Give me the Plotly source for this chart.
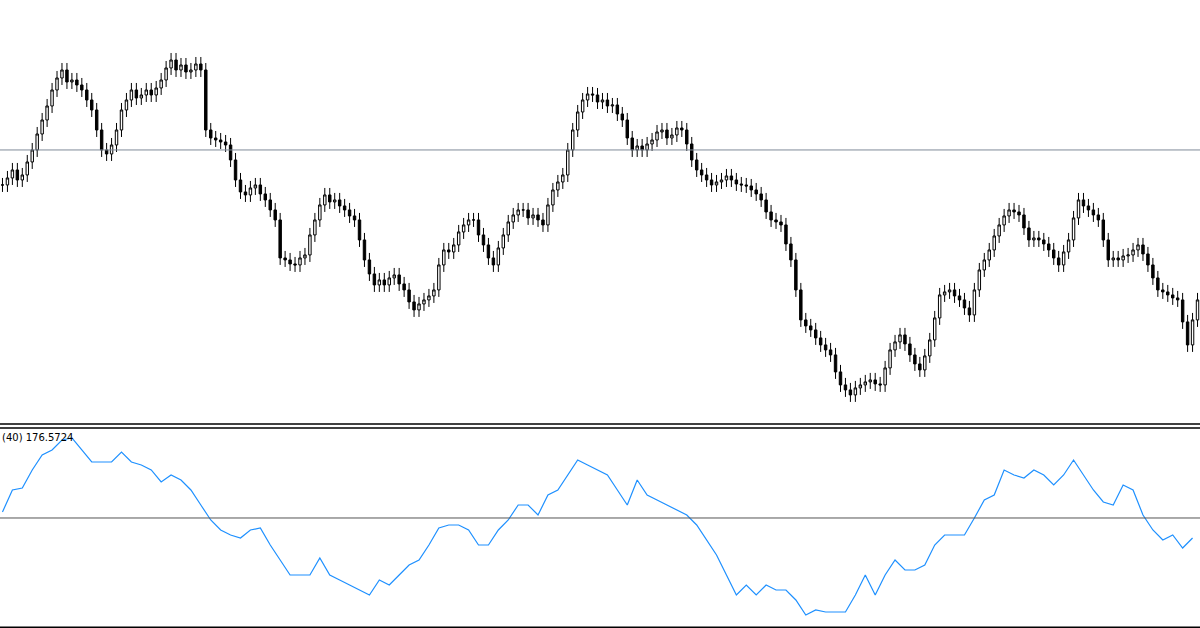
import plotly.graph_objects as go

# closing prices, one per candle (arbitrary price units)
closes = [245, 252, 260, 250, 255, 268, 280, 296, 310, 324, 340, 352, 360, 348, 350, 345, 340, 330, 320, 300,
          280, 276, 285, 300, 320, 330, 340, 332, 335, 340, 335, 342, 350, 362, 370, 360, 365, 358, 360, 366,
          360, 300, 292, 290, 288, 285, 270, 250, 238, 235, 242, 245, 236, 230, 220, 210, 172, 170, 166, 165,
          172, 175, 195, 210, 225, 235, 228, 230, 224, 220, 214, 210, 190, 170, 156, 145, 150, 145, 152, 155,
          146, 140, 128, 120, 126, 130, 134, 140, 165, 180, 178, 185, 198, 205, 210, 210, 195, 185, 172, 165,
          182, 195, 208, 215, 220, 220, 212, 215, 210, 205, 225, 240, 248, 255, 280, 300, 318, 330, 336, 335,
          328, 330, 324, 325, 316, 310, 292, 280, 284, 280, 286, 290, 298, 300, 292, 295, 302, 300, 286, 270,
          260, 255, 250, 245, 248, 250, 254, 250, 246, 245, 244, 240, 236, 230, 218, 210, 208, 205, 186, 170,
          140, 110, 104, 100, 92, 85, 80, 75, 58, 45, 40, 35, 42, 45, 48, 50, 46, 45, 62, 80,
          88, 95, 86, 75, 66, 60, 74, 90, 112, 135, 138, 140, 134, 130, 122, 115, 140, 160, 170, 180,
          194, 205, 214, 220, 218, 215, 202, 190, 192, 190, 186, 180, 172, 165, 178, 190, 212, 230, 224, 220,
          215, 210, 190, 170, 172, 170, 174, 175, 180, 185, 176, 165, 152, 140, 138, 135, 132, 130, 108, 85,
          110, 130]

# oscillator values, one per two candles
osc = [6, 28, 30, 48, 63, 68, 78, 80, 68, 56, 56, 56, 66, 56, 53, 48, 36, 43, 38, 28,
       13, -2, -12, -17, -20, -12, -10, -27, -42, -57, -57, -57, -40, -57, -62, -67, -72, -77, -62, -67,
       -57, -47, -42, -27, -10, -7, -7, -12, -27, -27, -12, -2, 13, 13, 3, 23, 28, 43, 58, 53,
       48, 43, 28, 13, 38, 23, 18, 13, 8, 3, -7, -22, -37, -57, -77, -67, -77, -67, -72, -72,
       -82, -97, -92, -94, -94, -94, -77, -57, -77, -57, -42, -52, -52, -47, -27, -17, -17, -17, 0, 18,
       23, 48, 43, 40, 48, 43, 33, 43, 58, 43, 28, 16, 13, 33, 28, 3, -12, -22, -17, -30, -20]

opens = [closes[0]] + closes[:-1]
highs = [max(o, c) + 7 for o, c in zip(opens, closes)]
lows = [min(o, c) - 7 for o, c in zip(opens, closes)]
idx = list(range(len(closes)))
osc_x = [2 * i for i in range(len(osc))]

fig = go.Figure()
fig.add_trace(go.Candlestick(
    x=idx, open=opens, high=highs, low=lows, close=closes,
    increasing=dict(line=dict(color="black", width=1), fillcolor="white"),
    decreasing=dict(line=dict(color="black", width=1), fillcolor="black"),
    whiskerwidth=0, showlegend=False, xaxis="x", yaxis="y"))
fig.add_trace(go.Scatter(
    x=osc_x, y=osc, mode="lines", line=dict(color="#1E90FF", width=1.2),
    showlegend=False, xaxis="x2", yaxis="y2"))

xr = [-0.5, len(closes) - 0.5]
fig.update_layout(
    width=1200, height=628, margin=dict(l=0, r=0, t=0, b=0),
    plot_bgcolor="white", paper_bgcolor="white",
    xaxis=dict(range=xr, visible=False, rangeslider=dict(visible=False), domain=[0, 1]),
    xaxis2=dict(range=xr, visible=False, anchor="y2", matches="x"),
    yaxis=dict(domain=[0.325, 1], range=[6, 430], visible=False),
    yaxis2=dict(domain=[0, 0.3185], range=[-110, 90], visible=False),
    shapes=[
        dict(type="line", xref="paper", yref="y", x0=0, x1=1, y0=280, y1=280, line=dict(color="#7f8a99", width=1)),
        dict(type="line", xref="paper", yref="y2", x0=0, x1=1, y0=0, y1=0, line=dict(color="#555555", width=1)),
        dict(type="line", xref="paper", yref="paper", x0=0, x1=1, y0=0.3248, y1=0.3248, line=dict(color="black", width=1.5)),
        dict(type="line", xref="paper", yref="paper", x0=0, x1=1, y0=0.3185, y1=0.3185, line=dict(color="black", width=1.5)),
        dict(type="line", xref="paper", yref="paper", x0=0, x1=1, y0=0.001, y1=0.001, line=dict(color="black", width=1.5)),
    ],
    annotations=[dict(text="(40) 176.5724", xref="paper", yref="paper", x=0, y=0.316,
                      xanchor="left", yanchor="top", showarrow=False,
                      font=dict(family="DejaVu Sans", size=10, color="black"))],
)

fig.write_html("out.html", config={"displayModeBar": False},
               post_script="document.body.style.margin='0';")
